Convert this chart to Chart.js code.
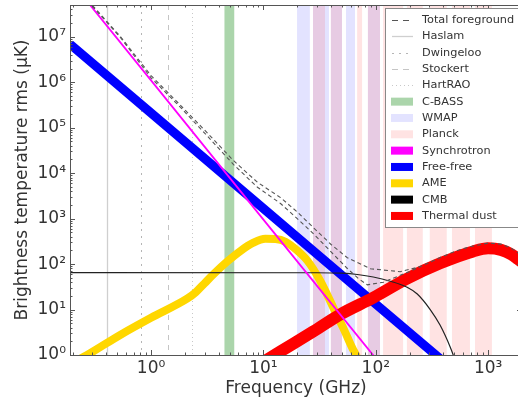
<!DOCTYPE html>
<html>
<head>
<meta charset="utf-8">
<script src="https://cdn.jsdelivr.net/npm/chart.js@4.4.1/dist/chart.umd.min.js"></script>
<style>
  html, body { margin: 0; padding: 0; background: #fff; overflow: hidden; }
  canvas { display: block; }
</style>
</head>
<body>
<canvas id="myChart" width="530" height="405"></canvas>
<script>
// frequencies in GHz, brightness temperature rms in uK
const syncFreq = [0.2, 1, 10, 100];
const syncTemp = [1.5e8, 1.1e6, 950, 0.84];

const ffFreq = [0.19, 1, 10, 100, 1000];
const ffTemp = [6.9e6, 2.1e5, 1670, 13.2, 0.105];

const ameFreq = [0.19, 0.27, 0.536, 1, 2.11, 2.5, 3.0, 3.6, 4.79, 6.25, 8.15, 10.4, 12.8, 15.7, 20, 24.6, 32, 41.9, 51.4, 61.8, 68, 75];
const ameTemp = [0.63, 1, 2.8, 6.6, 17.5, 24, 38, 60, 115, 195, 295, 360, 355, 310, 198, 119, 43, 11, 3.9, 1.43, 0.9, 0.5];

const cmbFreq = [0.19, 30, 50, 68.5, 95, 134.5, 190, 234, 305, 374, 459, 509, 560];
const cmbTemp = [65, 64.5, 63, 59, 52, 42, 31, 22, 10, 4.5, 1.5, 0.75, 0.35];

const dustFreq = [9, 14.2, 27.8, 48.7, 95.6, 189, 374, 736, 1000, 1300, 1600, 1850, 2100];
const dustTemp = [0.6, 1.2, 3.3, 7.9, 18.4, 47.6, 104, 190, 222, 205, 165, 128, 100];

const totalFreq = [0.19, 0.308, 0.536, 1, 1.83, 3.18, 5.4, 8.85, 14.2, 20, 27.8, 40, 55.8, 89.4, 165, 250, 374, 550, 736, 1000, 1300, 1600, 1850, 2100];
const totalTemp = [1.9e8, 4.6e7, 1.0e7, 1.4e6, 3.1e5, 7.6e4, 1.9e4, 6.3e3, 2.9e3, 1400, 636, 270, 138, 79, 68, 88, 140, 205, 250, 290, 275, 225, 175, 135];
const totalLowFreq = [0.19, 0.308, 0.536, 1, 1.83, 3.18, 5.4, 8.85, 14.2, 20, 27.8, 40, 55.8, 70, 84, 117, 190, 250];
const totalLowTemp = [1.9e8, 4.4e7, 9.5e6, 1.25e6, 2.8e5, 6.5e4, 1.56e4, 4.9e3, 2.15e3, 1000, 468, 185, 80, 48, 35, 40, 65, 88];

// instrument frequency coverage
const receivers = ['Haslam', 'Dwingeloo', 'Stockert', 'HartRAO'];
const receiverFreq = [0.408, 0.82, 1.42, 2.3];
const cbassBand = [4.5, 5.5];
const wmapBands = [[19.9, 25.9], [27.6, 38.3], [39.8, 50], [54.3, 65.3], [85, 109]];
const planckBands = [[27.6, 35.3], [39.8, 50], [68.2, 75.5], [85, 109], [116, 175], [189, 262], [302, 428], [476, 689], [763, 1080]];

const xTickValues = [1, 10, 100, 1000];
const xTickLabels = ['10⁰', '10¹', '10²', '10³'];
const yTickValues = [1, 10, 100, 1e3, 1e4, 1e5, 1e6, 1e7];
const yTickLabels = ['10⁰', '10¹', '10²', '10³', '10⁴', '10⁵', '10⁶', '10⁷'];

const family = "'DejaVu Sans', sans-serif";
const cbassColor = 'rgba(0,128,0,0.33)';
const wmapColor = 'rgba(0,0,255,0.11)';
const planckColor = 'rgba(255,0,0,0.11)';
const receiverStyle = [
  {color: '#cfcfcf', dash: [], width: 1.3},
  {color: '#b5b5b5', dash: [2, 5], width: 1},
  {color: '#c5c5c5', dash: [5, 5], width: 1},
  {color: '#c8c8c8', dash: [1, 3], width: 1}
];

function pts(freq, temp) {
  return freq.map((f, i) => ({x: f, y: temp[i]}));
}

// shaded bands and receiver lines behind the curves
const bandPlugin = {
  id: 'bands',
  beforeDatasetsDraw(chart) {
    const {ctx, chartArea: a, scales: {x}} = chart;
    ctx.save();
    ctx.beginPath();
    ctx.rect(a.left, a.top, a.right - a.left, a.bottom - a.top);
    ctx.clip();
    const fillBand = (band, color) => {
      const x1 = x.getPixelForValue(band[0]);
      const x2 = x.getPixelForValue(band[1]);
      ctx.fillStyle = color;
      ctx.fillRect(x1, a.top, x2 - x1, a.bottom - a.top);
    };
    fillBand(cbassBand, cbassColor);
    wmapBands.forEach(b => fillBand(b, wmapColor));
    planckBands.forEach(b => fillBand(b, planckColor));
    receiverFreq.forEach((f, i) => {
      const s = receiverStyle[i];
      const px = Math.round(x.getPixelForValue(f)) + 0.5;
      ctx.strokeStyle = s.color;
      ctx.lineWidth = s.width;
      ctx.setLineDash(s.dash);
      ctx.beginPath();
      ctx.moveTo(px, a.top);
      ctx.lineTo(px, a.bottom);
      ctx.stroke();
    });
    ctx.restore();
  }
};

// matplotlib style frame with inward ticks on all sides
function logTicks(scale) {
  const out = [];
  const e0 = Math.floor(Math.log10(scale.min));
  const e1 = Math.ceil(Math.log10(scale.max));
  for (let e = e0; e <= e1; e++) {
    for (let m = 1; m < 10; m++) {
      const v = m * Math.pow(10, e);
      if (v < scale.min * 0.9999 || v > scale.max * 1.0001) continue;
      out.push({p: scale.getPixelForValue(v), major: m === 1});
    }
  }
  return out;
}

const framePlugin = {
  id: 'frame',
  afterDatasetsDraw(chart) {
    const {ctx, chartArea: a, scales: {x, y}} = chart;
    ctx.save();
    ctx.strokeStyle = '#555';
    ctx.lineWidth = 1;
    ctx.setLineDash([]);
    ctx.strokeRect(a.left + 0.5, a.top + 0.5, a.right - a.left, a.bottom - a.top);
    ctx.beginPath();
    logTicks(x).forEach(t => {
      const len = t.major ? 5 : 2.5;
      const p = Math.round(t.p) + 0.5;
      ctx.moveTo(p, a.bottom); ctx.lineTo(p, a.bottom - len);
      ctx.moveTo(p, a.top); ctx.lineTo(p, a.top + len);
    });
    logTicks(y).forEach(t => {
      const len = t.major ? 5 : 2.5;
      const p = Math.round(t.p) + 0.5;
      ctx.moveTo(a.left, p); ctx.lineTo(a.left + len, p);
      ctx.moveTo(a.right, p); ctx.lineTo(a.right - len, p);
    });
    ctx.stroke();
    ctx.restore();
  }
};

const legendItems = [
  {label: 'Total foreground', kind: 'line', color: '#555', dash: [6, 5], width: 1.2},
  {label: 'Haslam', kind: 'line', color: '#cfcfcf', dash: [], width: 1.3},
  {label: 'Dwingeloo', kind: 'line', color: '#b5b5b5', dash: [2, 5], width: 1.2},
  {label: 'Stockert', kind: 'line', color: '#c5c5c5', dash: [6, 5], width: 1.2},
  {label: 'HartRAO', kind: 'line', color: '#c8c8c8', dash: [1, 3], width: 1},
  {label: 'C-BASS', kind: 'box', color: cbassColor},
  {label: 'WMAP', kind: 'box', color: wmapColor},
  {label: 'Planck', kind: 'box', color: planckColor},
  {label: 'Synchrotron', kind: 'box', color: '#ff00ff'},
  {label: 'Free-free', kind: 'box', color: '#0000ff'},
  {label: 'AME', kind: 'box', color: '#ffd700'},
  {label: 'CMB', kind: 'box', color: '#000000'},
  {label: 'Thermal dust', kind: 'box', color: '#ff0000'}
];

const legendPlugin = {
  id: 'boxLegend',
  afterDraw(chart) {
    const {ctx, chartArea: a} = chart;
    const x0 = a.right - 137, y0 = a.top + 3, w = 140, h = 219;
    const step = 16.33;
    ctx.save();
    ctx.fillStyle = '#fff';
    ctx.fillRect(x0, y0, w, h);
    ctx.strokeStyle = '#888';
    ctx.lineWidth = 1;
    ctx.strokeRect(x0 + 0.5, y0 + 0.5, w, h);
    ctx.font = '11.3px ' + family;
    ctx.textBaseline = 'middle';
    legendItems.forEach((it, i) => {
      const cy = y0 + 12 + i * step;
      if (it.kind === 'line') {
        ctx.strokeStyle = it.color;
        ctx.lineWidth = it.width;
        ctx.setLineDash(it.dash);
        ctx.beginPath();
        ctx.moveTo(x0 + 7, Math.round(cy) + 0.5);
        ctx.lineTo(x0 + 28, Math.round(cy) + 0.5);
        ctx.stroke();
        ctx.setLineDash([]);
      } else {
        ctx.fillStyle = it.color;
        ctx.fillRect(x0 + 6, cy - 4, 22, 8);
      }
      ctx.fillStyle = '#333';
      ctx.fillText(it.label, x0 + 37, cy);
    });
    ctx.restore();
  }
};

const ctx = document.getElementById('myChart').getContext('2d');
const chart = new Chart(ctx, {
  type: 'line',
  data: {
    datasets: [
      {label: 'Total foreground', data: pts(totalFreq, totalTemp), borderColor: '#555', borderWidth: 1.1, borderDash: [4, 3], tension: 0, order: 0},
      {label: 'Total foreground (low)', data: pts(totalLowFreq, totalLowTemp), borderColor: '#555', borderWidth: 1.1, borderDash: [4, 3], tension: 0, order: 0},
      {label: 'Synchrotron', data: pts(syncFreq, syncTemp), borderColor: '#ff00ff', borderWidth: 1.8, tension: 0, order: 1},
      {label: 'CMB', data: pts(cmbFreq, cmbTemp), borderColor: '#222', borderWidth: 1.2, cubicInterpolationMode: 'monotone', order: 2},
      {label: 'Thermal dust', data: pts(dustFreq, dustTemp), borderColor: '#ff0000', borderWidth: 12, cubicInterpolationMode: 'monotone', order: 3},
      {label: 'AME', data: pts(ameFreq, ameTemp), borderColor: '#ffd700', borderWidth: 8, cubicInterpolationMode: 'monotone', order: 4},
      {label: 'Free-free', data: pts(ffFreq, ffTemp), borderColor: '#0000ff', borderWidth: 9, tension: 0, order: 5}
    ]
  },
  options: {
    responsive: false,
    animation: false,
    devicePixelRatio: 1,
    layout: {padding: {left: 0, top: 5, right: 8, bottom: 0}},
    elements: {point: {radius: 0}, line: {fill: false}},
    datasets: {line: {clip: 0}},
    plugins: {legend: {display: false}, tooltip: {enabled: false}},
    scales: {
      x: {
        type: 'logarithmic',
        min: 0.19,
        max: 2000,
        grid: {display: false, drawTicks: false},
        border: {display: false},
        afterBuildTicks: s => { s.ticks = xTickValues.map(v => ({value: v})); },
        afterFit: s => { s.height = 50; s.paddingLeft = 0; s.paddingRight = 0; s.paddingTop = 0; s.paddingBottom = 0; },
        ticks: {
          autoSkip: false, maxRotation: 0, padding: 3, color: '#333',
          font: {family: family, size: 17},
          callback: (v, i) => xTickLabels[i]
        },
        title: {display: true, text: 'Frequency (GHz)', color: '#333', font: {family: family, size: 17}, padding: {top: 0, bottom: 6}}
      },
      y: {
        type: 'logarithmic',
        min: 1,
        max: 5e7,
        grid: {display: false, drawTicks: false},
        border: {display: false},
        afterBuildTicks: s => { s.ticks = yTickValues.map(v => ({value: v})); },
        afterFit: s => { s.width = 70; s.paddingLeft = 0; s.paddingRight = 0; s.paddingTop = 0; s.paddingBottom = 0; },
        ticks: {
          autoSkip: false, padding: 4, color: '#333',
          font: {family: family, size: 17},
          callback: (v, i) => yTickLabels[i]
        },
        title: {display: true, text: 'Brightness temperature rms (μK)', color: '#333', font: {family: family, size: 17}, padding: {top: 12, bottom: 0}}
      }
    }
  },
  plugins: [bandPlugin, framePlugin, legendPlugin]
});
</script>
</body>
</html>
